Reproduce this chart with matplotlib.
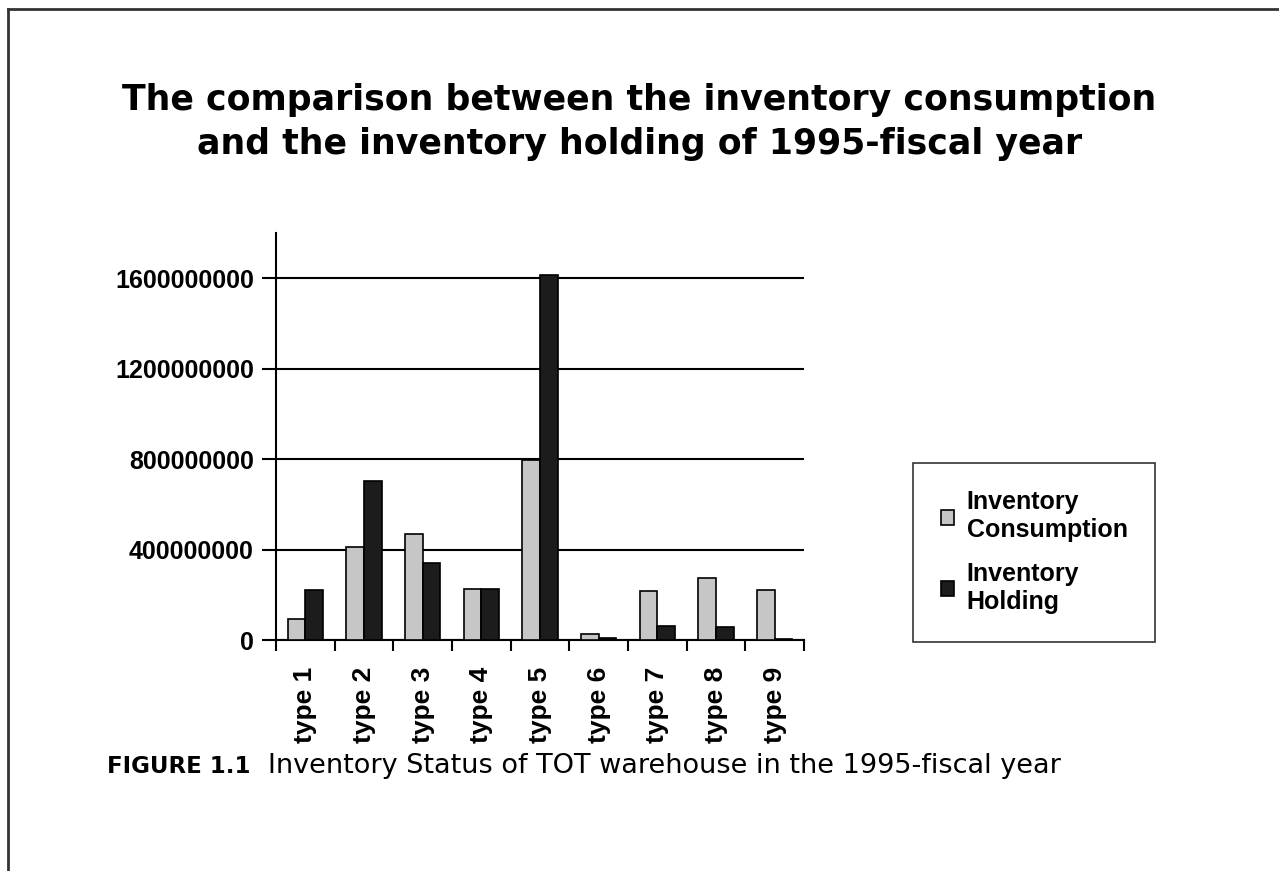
import matplotlib.pyplot as plt
import matplotlib.lines as mlines
import numpy as np

types = ["type 1", "type 2", "type 3", "type 4", "type 5",
         "type 6", "type 7", "type 8", "type 9"]
consumption = [95e6, 411e6, 468e6, 226e6, 794e6, 28e6, 215e6, 275e6, 221e6]
holding = [221e6, 704e6, 340e6, 226e6, 1614e6, 7e6, 62e6, 59e6, 3e6]
yticks = [0, 400000000, 800000000, 1200000000, 1600000000]

W, H = 1279, 871
fig = plt.figure(figsize=(W / 100, H / 100), dpi=100)

# axes box in pixels: left 276, right 804, top 233, bottom 640
ax = fig.add_axes([276 / W, 1 - 640 / H, (804 - 276) / W, (640 - 233) / H])

x = np.arange(len(types)) + 0.5
bw = 0.3
ax.bar(x - bw / 2, consumption, bw, color="#c6c6c6", edgecolor="black",
       linewidth=1.2, label="Inventory\nConsumption", zorder=3)
ax.bar(x + bw / 2, holding, bw, color="#1c1c1c", edgecolor="black",
       linewidth=1.2, label="Inventory\nHolding", zorder=3)

ax.set_xlim(0, len(types))
ax.set_ylim(0, 1800000000)
ax.set_yticks(yticks)
ax.set_yticklabels([str(v) for v in yticks])
ax.yaxis.grid(True, color="black", linewidth=1.5)
ax.set_axisbelow(True)

ax.set_xticks(x)
ax.set_xticklabels(types, rotation=90)
ax.set_xticks(np.arange(len(types) + 1), minor=True)
ax.tick_params(axis="x", which="major", length=0, pad=19)
ax.tick_params(axis="x", which="minor", length=8, width=1.5, direction="out")
ax.tick_params(axis="y", length=10, width=1.5, direction="out", pad=6)

for lab in ax.get_yticklabels():
    lab.set_family("Liberation Sans")
    lab.set_fontweight("bold")
    lab.set_fontsize(18)
for lab in ax.get_xticklabels():
    lab.set_family("Liberation Sans")
    lab.set_fontweight("bold")
    lab.set_fontsize(19)

for s in ["top", "right"]:
    ax.spines[s].set_visible(False)
for s in ["left", "bottom"]:
    ax.spines[s].set_linewidth(1.5)

leg = fig.legend(loc="upper left", bbox_to_anchor=(913 / W, 1 - 463 / H),
                 borderaxespad=0,
                 prop={"family": "Liberation Sans", "weight": "bold", "size": 18},
                 frameon=True, fancybox=False, edgecolor="black",
                 handlelength=0.55, handleheight=0.55, handletextpad=0.5,
                 labelspacing=0.8, borderpad=1.1)
leg.get_frame().set_linewidth(1.2)

fig.text(0.5, 1 - 122 / H,
         "The comparison between the inventory consumption\nand the inventory holding of 1995-fiscal year",
         ha="center", va="center", fontsize=25, fontweight="bold",
         family="DejaVu Sans", linespacing=1.35)

fig.text(107 / W, 1 - 766 / H, "FIGURE 1.1", ha="left", va="center",
         fontsize=16.5, fontweight="bold", family="DejaVu Sans")
fig.text(268 / W, 1 - 766 / H,
         "Inventory Status of TOT warehouse in the 1995-fiscal year",
         ha="left", va="center", fontsize=19.5, family="DejaVu Sans")

# page frame (cut off at right and bottom)
fig.add_artist(mlines.Line2D([8 / W, 1], [1 - 9 / H, 1 - 9 / H],
                             color="#333333", linewidth=2))
fig.add_artist(mlines.Line2D([8 / W, 8 / W], [0, 1 - 9 / H],
                             color="#333333", linewidth=2))

fig.savefig("out.png", dpi=100, facecolor="white")
